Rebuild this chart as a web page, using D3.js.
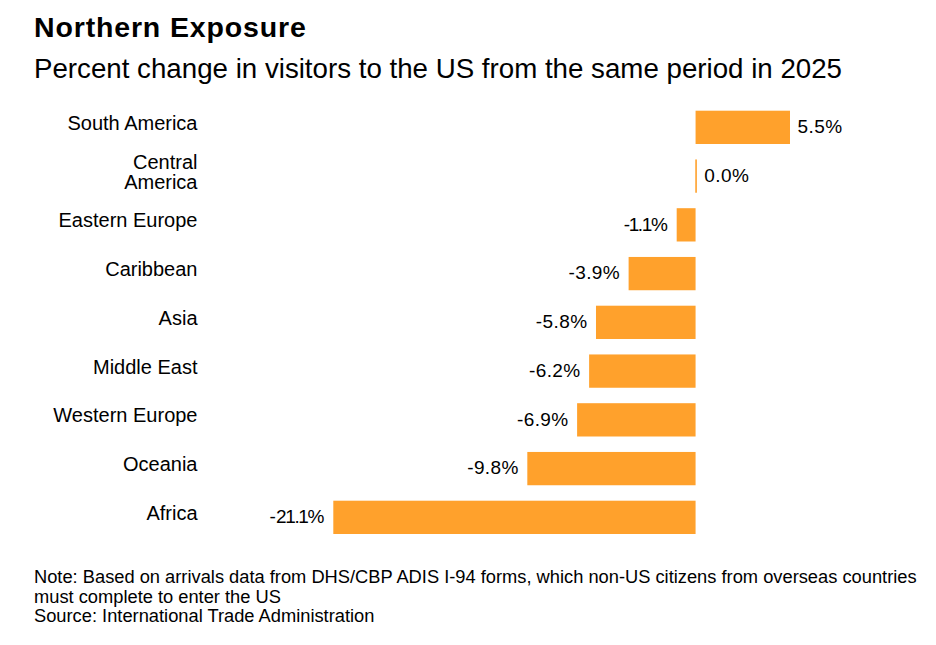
<!DOCTYPE html>
<html><head><meta charset="utf-8">
<script src="https://cdn.jsdelivr.net/npm/d3@7"></script>
<style>
body{margin:0;background:#fff;}
text{font-family:"Liberation Sans",Arial,Helvetica,sans-serif;fill:#000;}
</style></head>
<body>
<svg id="chart" width="936" height="645"></svg>
<script>
const categories = ["South America","Central America","Eastern Europe","Caribbean","Asia","Middle East","Western Europe","Oceania","Africa"];
const categoryLines = [["South America"],["Central","America"],["Eastern Europe"],["Caribbean"],["Asia"],["Middle East"],["Western Europe"],["Oceania"],["Africa"]];
const values = [5.5, 0.0, -1.1, -3.9, -5.8, -6.2, -6.9, -9.8, -21.1];
const valueLabels = ["5.5%","0.0%","-1.1%","-3.9%","-5.8%","-6.2%","-6.9%","-9.8%","-21.1%"];
const titleText = "Northern Exposure";
const subtitleText = "Percent change in visitors to the US from the same period in 2025";
const noteLines = ["Note: Based on arrivals data from DHS/CBP ADIS I-94 forms, which non-US citizens from overseas countries","must complete to enter the US","Source: International Trade Administration"];

const svg = d3.select("#chart");
const color = "#ffa12c";

svg.append("text").attr("x",34).attr("y",36.7).attr("font-size",28.5).attr("font-weight","bold")
  .attr("letter-spacing","0.85px").text(titleText);
svg.append("text").attr("x",34).attr("y",77.7).attr("font-size",27.7).text(subtitleText);

const x = d3.scaleLinear().domain([-21.1, 5.5]).range([333.3, 790]);
const y = d3.scaleBand().domain(categories).range([110.7, 534]).paddingInner(0.317).paddingOuter(0);

const g = svg.append("g");
g.selectAll("rect.bar").data(values).join("rect")
  .attr("class","bar")
  .attr("x",(d)=> d===0 ? x(0)-0.3 : Math.min(x(0),x(d)))
  .attr("width",(d)=> d===0 ? 1.6 : Math.abs(x(d)-x(0)))
  .attr("y",(d,i)=>y(categories[i]))
  .attr("height",y.bandwidth())
  .attr("fill",color);

const vals = g.selectAll("text.val").data(values).join("text")
  .attr("class","val")
  .attr("x",(d)=> d>=0 ? Math.max(x(d),x(0)+1.3)+7.5 : x(d)-8.5)
  .attr("y",(d,i)=>y(categories[i])+y.bandwidth()/2)
  .attr("dy","0.31em")
  .attr("text-anchor",(d)=> d>=0 ? "start":"end")
  .attr("font-size",19)
  .attr("letter-spacing","0.4px");
vals.selectAll("tspan").data((d,i)=>{
    const chars = valueLabels[i].split("");
    return chars.map((c,k)=>({c, dx: (c==="1"?-1.8:0) + (k>0 && chars[k-1]==="1" ? -1.8:0)}));
  }).join("tspan")
  .attr("dx",d=>d.dx)
  .text(d=>d.c);

const labs = g.selectAll("text.cat").data(categoryLines).join("text")
  .attr("class","cat")
  .attr("text-anchor","end")
  .attr("font-size",20)
  .attr("y",(d,i)=>y(categories[i])+y.bandwidth()/2 - 4.7 - (d.length-1)*10);
labs.selectAll("tspan").data(d=>d).join("tspan")
  .attr("x",197.5)
  .attr("dy",(d,j)=> j===0 ? "0.36em" : "20")
  .text(d=>d);

noteLines.forEach((t,i)=>{
  svg.append("text").attr("x",34).attr("y",583+i*19.5).attr("font-size",18.3).text(t);
});
</script>
</body></html>
